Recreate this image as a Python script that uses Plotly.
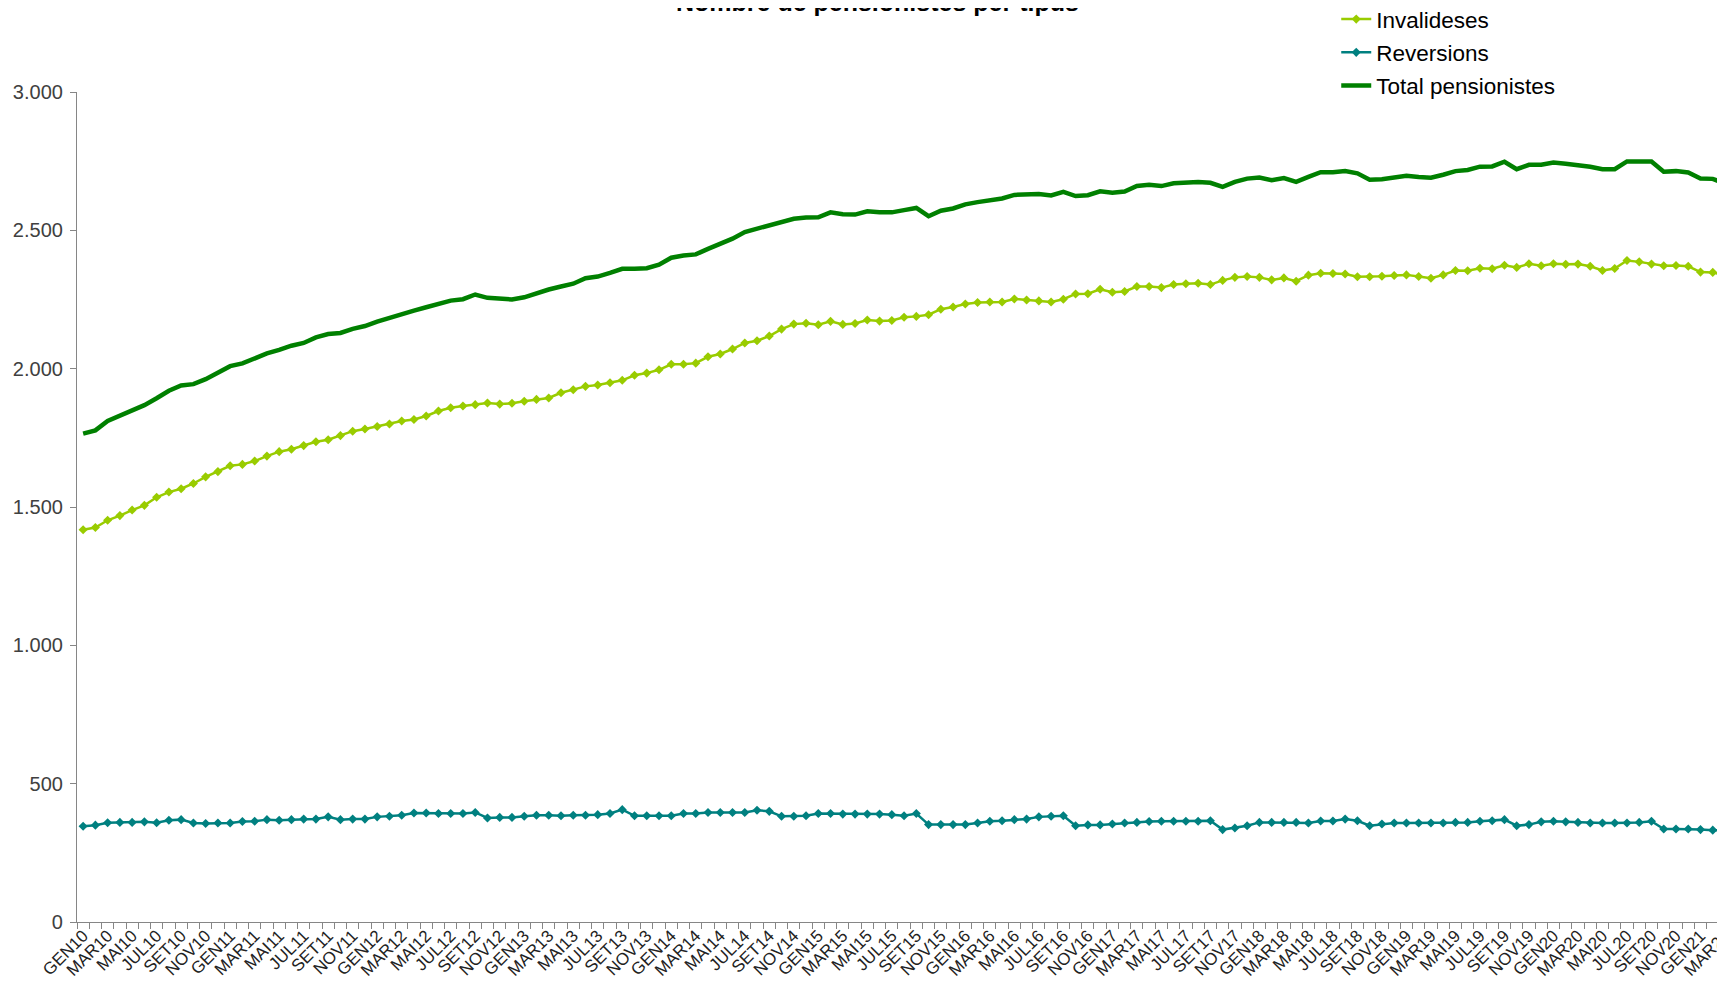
import plotly.graph_objects as go

# ---- data -------------------------------------------------------------
MONTH_ABBR = ["GEN", "FEB", "MAR", "ABR", "MAI", "JUN", "JUL", "AGO", "SET", "OCT", "NOV", "DES"]
YEARS = ["10", "11", "12", "13", "14", "15", "16", "17", "18", "19", "20", "21"]
months = [m + y for y in YEARS for m in MONTH_ABBR][:135]  # GEN10 .. MAR21

invalideses = [
    1418, 1426, 1452, 1469, 1489, 1506, 1535, 1554, 1566, 1585, 1609, 1628,
    1649, 1654, 1666, 1684, 1700, 1709, 1722, 1736, 1743, 1758, 1774, 1782,
    1791, 1800, 1811, 1816, 1829, 1847, 1859, 1865, 1870, 1876, 1872, 1875,
    1882, 1889, 1894, 1913, 1924, 1936, 1941, 1949, 1958,
    1976, 1984, 1996, 2016, 2016, 2020, 2043, 2053, 2071, 2093, 2101, 2118,
    2143, 2161, 2164, 2159, 2171, 2160, 2163, 2176, 2172, 2174, 2186, 2189,
    2195, 2215, 2223, 2234, 2239, 2241, 2241, 2252, 2248, 2245, 2241, 2251,
    2270, 2271, 2287, 2276, 2279, 2297, 2297, 2293, 2304,
    2307, 2309, 2304, 2319, 2330, 2333, 2330, 2321, 2328, 2316, 2338, 2345,
    2344, 2342, 2332, 2332, 2334, 2337, 2339, 2333, 2327, 2339, 2355, 2354,
    2363, 2361, 2374, 2366, 2379, 2372, 2379, 2377, 2378, 2370, 2355, 2362,
    2391, 2386, 2378, 2372, 2373, 2370, 2349, 2348, 2337,
]

reversions = [
    346, 350, 359, 360, 360, 362, 359, 368, 370, 358, 356, 358,
    358, 363, 364, 370, 368, 370, 372, 372, 380, 370, 372, 372,
    380, 382, 386, 394, 394, 392, 392, 392, 396, 376, 378, 378,
    382, 386, 386, 384, 386, 386, 388, 392, 406, 384, 384, 384,
    384, 392, 392, 396, 396, 396, 396, 404, 400, 382, 382, 384,
    392, 392, 390, 390, 390, 390, 388,
    384, 392, 352, 352, 352, 352, 358, 364, 366, 370, 372, 380,
    382, 384, 348, 351, 351, 354, 358, 360, 363, 364, 364, 364,
    364, 366, 334, 340, 348, 360, 360, 360, 360, 358, 365, 365,
    372, 366, 348, 354, 358, 358, 358, 358, 358, 360, 360, 364,
    366, 370, 348, 352, 362, 364, 362, 360, 358, 358, 358, 358,
    360, 364, 336, 336, 336, 334, 332, 330,
]

total = [
    1765, 1777, 1811, 1829, 1847, 1868, 1893, 1920, 1939, 1944, 1962, 1984,
    2009, 2019, 2037, 2055, 2068, 2083, 2093, 2113, 2125, 2129, 2144, 2154,
    2170, 2184, 2200, 2210, 2222, 2234, 2246, 2251, 2268, 2256, 2255, 2250,
    2258, 2274, 2286, 2297, 2307, 2327, 2333, 2346, 2361,
    2361, 2363, 2376, 2401, 2409, 2413, 2433, 2450, 2470, 2494, 2506, 2521,
    2533, 2542, 2546, 2547, 2565, 2558, 2557, 2569, 2565, 2565, 2573, 2581,
    2551, 2571, 2579, 2594, 2602, 2609, 2615, 2628, 2630, 2631, 2626, 2639,
    2624, 2627, 2641, 2636, 2640, 2660, 2665, 2660, 2670,
    2672, 2675, 2672, 2657, 2675, 2687, 2691, 2681, 2689, 2675, 2693, 2710,
    2710, 2714, 2706, 2683, 2685, 2693, 2697, 2693, 2690, 2701, 2714, 2718,
    2730, 2731, 2748, 2721, 2737, 2737, 2745, 2741, 2737, 2730, 2721, 2721,
    2749, 2749, 2749, 2712, 2714, 2709, 2687, 2686, 2669,
]

tick_labels = [m if k % 2 == 0 else "" for k, m in enumerate(months)]
y_ticks = [0, 500, 1000, 1500, 2000, 2500, 3000]

# ---- figure -----------------------------------------------------------
FONT = "Arial, Liberation Sans, sans-serif"
AXIS_GRAY = "#868686"

fig = go.Figure()
fig.add_trace(go.Scatter(
    x=months, y=invalideses, name="Invalideses", mode="lines+markers",
    line=dict(color="#99CC00", width=2.5),
    marker=dict(symbol="diamond", size=7, color="#99CC00"),
    legendgroup="a",
))
fig.add_trace(go.Scatter(
    x=months, y=reversions, name="Reversions", mode="lines+markers",
    line=dict(color="#008080", width=2.5),
    marker=dict(symbol="diamond", size=7, color="#008080"),
    legendgroup="b",
))
fig.add_trace(go.Scatter(
    x=months, y=total, name="Total pensionistes", mode="lines",
    line=dict(color="#008000", width=4.5),
    legendgroup="c",
))

fig.update_layout(
    width=1725, height=982,
    margin=dict(l=69, r=8, t=84, b=68, autoexpand=False),
    paper_bgcolor="white", plot_bgcolor="white",
    separators=",.",
    font=dict(family=FONT, color="#000000"),
    showlegend=True,
    legend=dict(
        x=0.7641, y=1.1133, xanchor="left", yanchor="top",
        font=dict(family=FONT, size=22.5, color="#000000"),
        bgcolor="rgba(0,0,0,0)", traceorder="grouped", tracegroupgap=1,
    ),
    annotations=[dict(
        text="<b>Nombre de pensionistes per tipus</b>",
        xref="paper", yref="paper", x=0.486, y=1.0892,
        xanchor="center", yanchor="bottom", showarrow=False,
        font=dict(family=FONT, size=25, color="#000000"),
    )],
)

fig.update_xaxes(
    type="category", range=[-0.5, 134.0],
    tickmode="array", tickvals=months, ticktext=tick_labels,
    tickson="boundaries", ticks="outside", ticklen=6, tickcolor=AXIS_GRAY,
    ticklabelstandoff=-4,
    tickangle=-45, tickfont=dict(family=FONT, size=17, color="#222222"),
    showline=True, linecolor=AXIS_GRAY, linewidth=1.2,
    showgrid=False, zeroline=False,
)
fig.update_yaxes(
    range=[0, 3000], tickmode="array", tickvals=y_ticks, tickformat=",d",
    ticks="outside", ticklen=6, tickcolor=AXIS_GRAY, ticklabelstandoff=3,
    tickfont=dict(family=FONT, size=20, color="#404040"),
    showline=True, linecolor=AXIS_GRAY, linewidth=1.2,
    showgrid=False, zeroline=False,
)

fig.write_html("out.html")
